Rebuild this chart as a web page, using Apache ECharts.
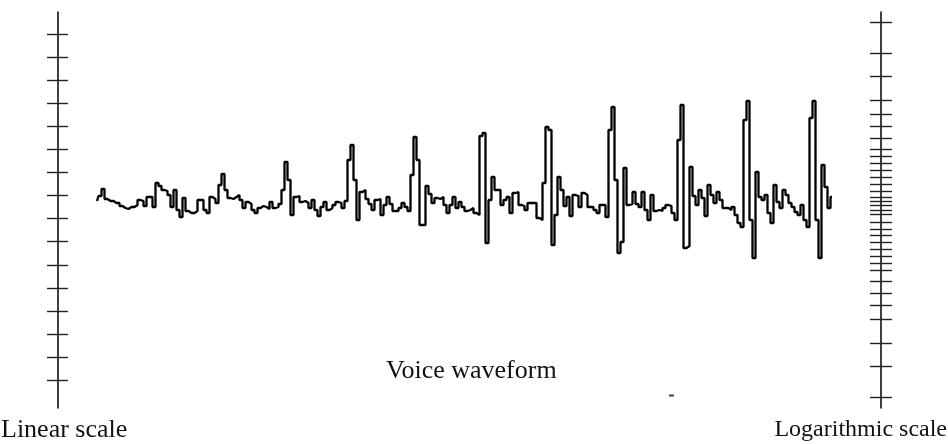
<!DOCTYPE html>
<html>
<head>
<meta charset="utf-8">
<script src="https://cdn.jsdelivr.net/npm/echarts@6/dist/echarts.min.js"></script>
<style>
html,body{margin:0;padding:0;background:#fff;}
#chart{width:948px;height:444px;}
</style>
</head>
<body>
<div id="chart"></div>
<script>
// Waveform amplitude samples (arbitrary units, 0 = centre line)
const waveform = [
  6,11,18,8,6,6,4,4,1,-1,-2,0,0,2,7,6,1,10,10,0,24,21,17,16,12,0,17,-3,-10,9,-4,-6,-6,-4,7,7,-3,-6,10,8,4,
  22,33,17,9,8,10,12,7,-1,5,3,-3,-6,-1,1,0,-2,5,-1,0,3,17,45,27,-8,10,11,5,6,4,-1,7,-3,-9,0,5,-3,-1,2,5,4,
  -1,6,47,62,27,-13,15,17,8,3,-3,7,8,-8,2,10,3,-4,-4,-1,4,0,-4,32,70,47,-18,-18,21,13,4,9,8,10,2,-6,2,10,-1,5,0,
  -4,-3,-1,-6,-8,71,74,-36,7,30,17,17,2,7,10,-6,14,15,2,1,-3,4,4,4,-11,-13,24,80,77,-38,-8,30,17,1,10,-9,12,11,0,14,12,0,0,-3,-6,2,2,-10,77,100,27,-46,
  -35,39,2,3,15,3,0,15,-3,-13,12,-4,-3,-4,-1,2,1,-6,-13,67,102,-41,-39,40,11,2,17,9,-9,22,12,4,15,7,-1,-1,-3,0,-8,-16,-20,87,106,-13,-51,35,10,7,12,-6,-16,22,5,-1,17,12,4,0,-5,-8,2,-13,-20,89,106,-13,-51,42,20,-1,10
];
// Linear scale tick values (evenly spaced)
const linearTicks = [-173.25,-150.15,-127.05,-103.95,-80.85,-57.75,-34.65,-11.55,11.55,34.65,57.75,80.85,103.95,127.05,150.15,173.25];
// Logarithmic-style (companding) scale tick values
const logTicks = [184.7,153.7,130.3,107,93,81,68.7,57.7,50.7,43.7,37,30,23,16,9.3,5.3,1.3,-3,-7.7,-15,-22,-28.7,-35.7,-42.7,-49.7,-56.7,-63.5,-74,-86.3,-98,-112.3,-136.3,-159,-190];
// Texts
const title = 'Voice waveform';
const leftLabel = 'Linear scale';
const rightLabel = 'Logarithmic scale';

const Y_MIN = -201, Y_MAX = 195;
const chart = echarts.init(document.getElementById('chart'), null, {renderer: 'canvas'});

function yAx(pos, show, inside, ticks, len) {
  return {
    type: 'value', position: pos, min: Y_MIN, max: Y_MAX,
    axisLine: {show: show, onZero: false, lineStyle: {color: '#111', width: 1.6}},
    axisTick: {show: true, inside: inside, length: len, customValues: ticks, lineStyle: {color: '#222', width: 1.4}},
    axisLabel: {show: false, customValues: ticks},
    splitLine: {show: false}
  };
}

const fam = '"Liberation Serif", "DejaVu Serif", serif';

chart.setOption({
  animation: false,
  backgroundColor: '#fff',
  grid: {left: 58, right: 67, top: 12, bottom: 36},
  xAxis: {type: 'value', min: -13, max: -13 + 823 / 3, show: false},
  yAxis: [
    yAx('left', true, false, linearTicks, 11),
    yAx('left', false, true, linearTicks, 10),
    yAx('right', true, false, logTicks, 11),
    yAx('right', false, true, logTicks, 11)
  ],
  series: [{
    type: 'line',
    step: 'middle',
    showSymbol: false,
    data: waveform.map((v, i) => [i, v]),
    lineStyle: {color: '#000', width: 2.3},
    yAxisIndex: 0
  }],
  graphic: [
    {type: 'text', style: {x: 386, y: 371, text: title, font: '26px ' + fam, fill: '#111', verticalAlign: 'middle', align: 'left'}},
    {type: 'text', style: {x: 1, y: 430, text: leftLabel, font: '26px ' + fam, fill: '#111', verticalAlign: 'middle', align: 'left'}},
    {type: 'text', style: {x: 947, y: 430, text: rightLabel, font: '24px ' + fam, fill: '#111', verticalAlign: 'middle', align: 'right'}},
    {type: 'line', shape: {x1: 669, y1: 395.5, x2: 674, y2: 395.5}, style: {stroke: '#553355', lineWidth: 2}}
  ]
});
</script>
</body>
</html>
